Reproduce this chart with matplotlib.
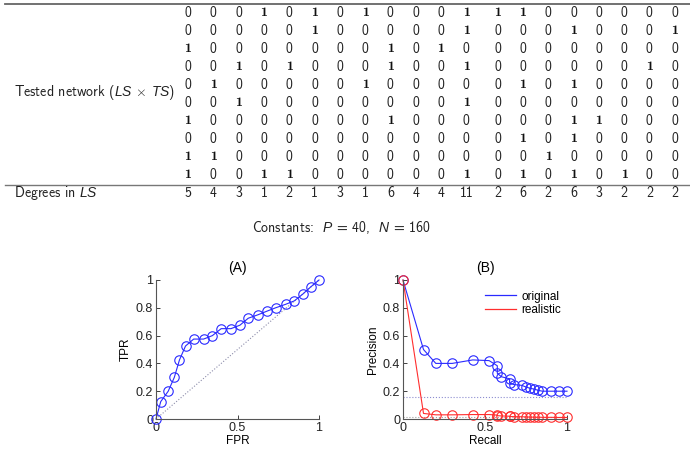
import matplotlib
matplotlib.use("Agg")
import matplotlib.pyplot as plt
from matplotlib.lines import Line2D

# Tested network (rows of LS x TS), bold where 1
tested_network = [
    [0, 0, 0, 1, 0, 1, 0, 1, 0, 0, 0, 1, 1, 1, 0, 0, 0, 0, 0, 0],
    [0, 0, 0, 0, 0, 1, 0, 0, 0, 0, 0, 1, 0, 0, 0, 1, 0, 0, 0, 1],
    [1, 0, 0, 0, 0, 0, 0, 0, 1, 0, 1, 0, 0, 0, 0, 0, 0, 0, 0, 0],
    [0, 0, 1, 0, 1, 0, 0, 0, 1, 0, 0, 1, 0, 0, 0, 0, 0, 0, 1, 0],
    [0, 1, 0, 0, 0, 0, 0, 1, 0, 0, 0, 0, 0, 1, 0, 1, 0, 0, 0, 0],
    [0, 0, 1, 0, 0, 0, 0, 0, 0, 0, 0, 1, 0, 0, 0, 0, 0, 0, 0, 0],
    [1, 0, 0, 0, 0, 0, 0, 0, 1, 0, 0, 0, 0, 0, 0, 1, 1, 0, 0, 0],
    [0, 0, 0, 0, 0, 0, 0, 0, 0, 0, 0, 0, 0, 1, 0, 1, 0, 0, 0, 0],
    [1, 1, 0, 0, 0, 0, 0, 0, 0, 0, 0, 0, 0, 0, 1, 0, 0, 0, 0, 0],
    [1, 0, 0, 1, 1, 0, 0, 0, 0, 0, 0, 1, 0, 1, 0, 1, 0, 1, 0, 0],
]
ls_degrees = [5, 4, 3, 1, 2, 1, 3, 1, 6, 4, 4, 11, 2, 6, 2, 6, 3, 2, 2, 2]

# (A) ROC curve
fpr = [0, 0.029, 0.075, 0.1125, 0.144, 0.181, 0.231, 0.292, 0.346, 0.40, 0.46,
       0.515, 0.566, 0.626, 0.679, 0.734, 0.795, 0.849, 0.902, 0.949, 1.0]
tpr = [0, 0.125, 0.2, 0.3, 0.425, 0.525, 0.575, 0.575, 0.6, 0.65, 0.65,
       0.675, 0.725, 0.75, 0.775, 0.8, 0.825, 0.85, 0.9, 0.95, 1.0]

# (B) precision-recall
recall = tpr
prec_original = [1.0, 0.5, 0.4, 0.4, 0.425, 0.42, 0.383, 0.329, 0.304, 0.289, 0.26,
                 0.248, 0.242, 0.23, 0.221, 0.215, 0.206, 0.2, 0.2, 0.2, 0.2]
prec_realistic = [1.0, 0.04, 0.03, 0.03, 0.032, 0.032, 0.028, 0.024, 0.022, 0.02, 0.018,
                  0.017, 0.016, 0.015, 0.014, 0.013, 0.013, 0.012, 0.012, 0.011, 0.011]
base_original = 0.16
base_realistic = 0.012

plt.rcParams['mathtext.fontset'] = 'custom'
plt.rcParams['mathtext.rm'] = 'cmss10'
plt.rcParams['mathtext.it'] = 'Liberation Sans:italic'
plt.rcParams['mathtext.bf'] = 'cmb10'

W, H = 690, 467
fig = plt.figure(figsize=(W / 100, H / 100), dpi=100)


def fx(x):
    return x / W


def fy(y):
    return 1 - y / H


## Table
TABFONT = 10
col_x = [188 + 25.3 * i + (6 if i >= 12 else 0) for i in range(len(ls_degrees))]
row_y = [13 + 18 * r for r in range(len(tested_network))]

for r, row in enumerate(tested_network):
    for c, v in enumerate(row):
        if v:
            fig.text(fx(col_x[c]), fy(row_y[r]), str(v), ha='center', va='center',
                     family='cmb10', fontsize=TABFONT, color='#111111')
        else:
            fig.text(fx(col_x[c]), fy(row_y[r]), str(v), ha='center', va='center',
                     family='cmss10', fontsize=TABFONT, color='#222222')

for c, d in enumerate(ls_degrees):
    fig.text(fx(col_x[c]), fy(193), str(d), ha='center', va='center',
             family='cmss10', fontsize=TABFONT, color='#222222')

fig.text(fx(14), fy(93), r'Tested network ($LS$ $\times$ $TS$)', ha='left', va='center',
         family='cmss10', fontsize=TABFONT, color='#222222')
fig.text(fx(14), fy(193), r'Degrees in $LS$', ha='left', va='center',
         family='cmss10', fontsize=TABFONT, color='#222222')
fig.text(fx(342), fy(227), r'Constants:  $P$ = 40,  $N$ = 160', ha='center', va='center',
         family='cmss10', fontsize=TABFONT, color='#222222')

fig.add_artist(Line2D([fx(5), 1], [fy(4), fy(4)], transform=fig.transFigure,
                      color='#666666', lw=1.3))
fig.add_artist(Line2D([fx(5), 1], [fy(185), fy(185)], transform=fig.transFigure,
                      color='#777777', lw=1.0))

## Plots
plt.rcParams['font.family'] = ['Liberation Sans', 'DejaVu Sans']
BLUE = '#2a2aff'
RED = '#ff2e2e'


def style(ax):
    ax.set_xlim(0, 1)
    ax.set_ylim(0, 1)
    ax.spines['top'].set_visible(False)
    ax.spines['right'].set_visible(False)
    for s in ('left', 'bottom'):
        ax.spines[s].set_color('#555555')
        ax.spines[s].set_linewidth(0.8)
    ax.set_xticks([0, 0.5, 1])
    ax.set_xticklabels(['0', '0.5', '1'])
    ax.set_yticks([0, 0.2, 0.4, 0.6, 0.8, 1])
    ax.set_yticklabels(['0', '0.2', '0.4', '0.6', '0.8', '1'])
    ax.tick_params(direction='in', length=3, width=0.6, labelsize=9,
                   colors='#222222', pad=2)


axA = fig.add_axes([fx(156), fy(419), 163 / W, 139 / H])
axA.plot([0, 1], [0, 1], ':', color='#8c8caa', lw=0.8)
axA.plot(fpr, tpr, '-o', color=BLUE, mfc='none', ms=6.8, lw=0.8, mew=0.8, clip_on=False)
style(axA)
axA.set_title('(A)', fontsize=10, pad=6)
axA.set_xlabel('FPR', fontsize=8.5, labelpad=1)
axA.set_ylabel('TPR', fontsize=8.5, labelpad=3)

axB = fig.add_axes([fx(403), fy(419), 164 / W, 139 / H])
axB.axhline(base_original, ls=':', color='#8c8cd0', lw=0.8)
axB.axhline(base_realistic, ls=':', color='#a0a0a0', lw=0.8)
axB.plot(recall, prec_original, '-o', color=BLUE, mfc='none', ms=6.8, lw=0.8, mew=0.8,
         clip_on=False, label='original')
axB.plot(recall, prec_realistic, '-o', color=RED, mfc='none', ms=6.8, lw=0.8, mew=0.8,
         clip_on=False, label='realistic')
style(axB)
axB.set_title('(B)', fontsize=10, pad=6)
axB.set_xlabel('Recall', fontsize=8.5, labelpad=1)
axB.set_ylabel('Precision', fontsize=8.5, labelpad=3)
handles = [Line2D([], [], color=BLUE, lw=0.9), Line2D([], [], color=RED, lw=0.9)]
axB.legend(handles, ['original', 'realistic'], frameon=False, fontsize=8.5,
           loc='upper right', bbox_to_anchor=(1.03, 1.0), handlelength=2.6,
           handletextpad=0.5, labelspacing=0.15)

plt.savefig('out.png', dpi=100)
